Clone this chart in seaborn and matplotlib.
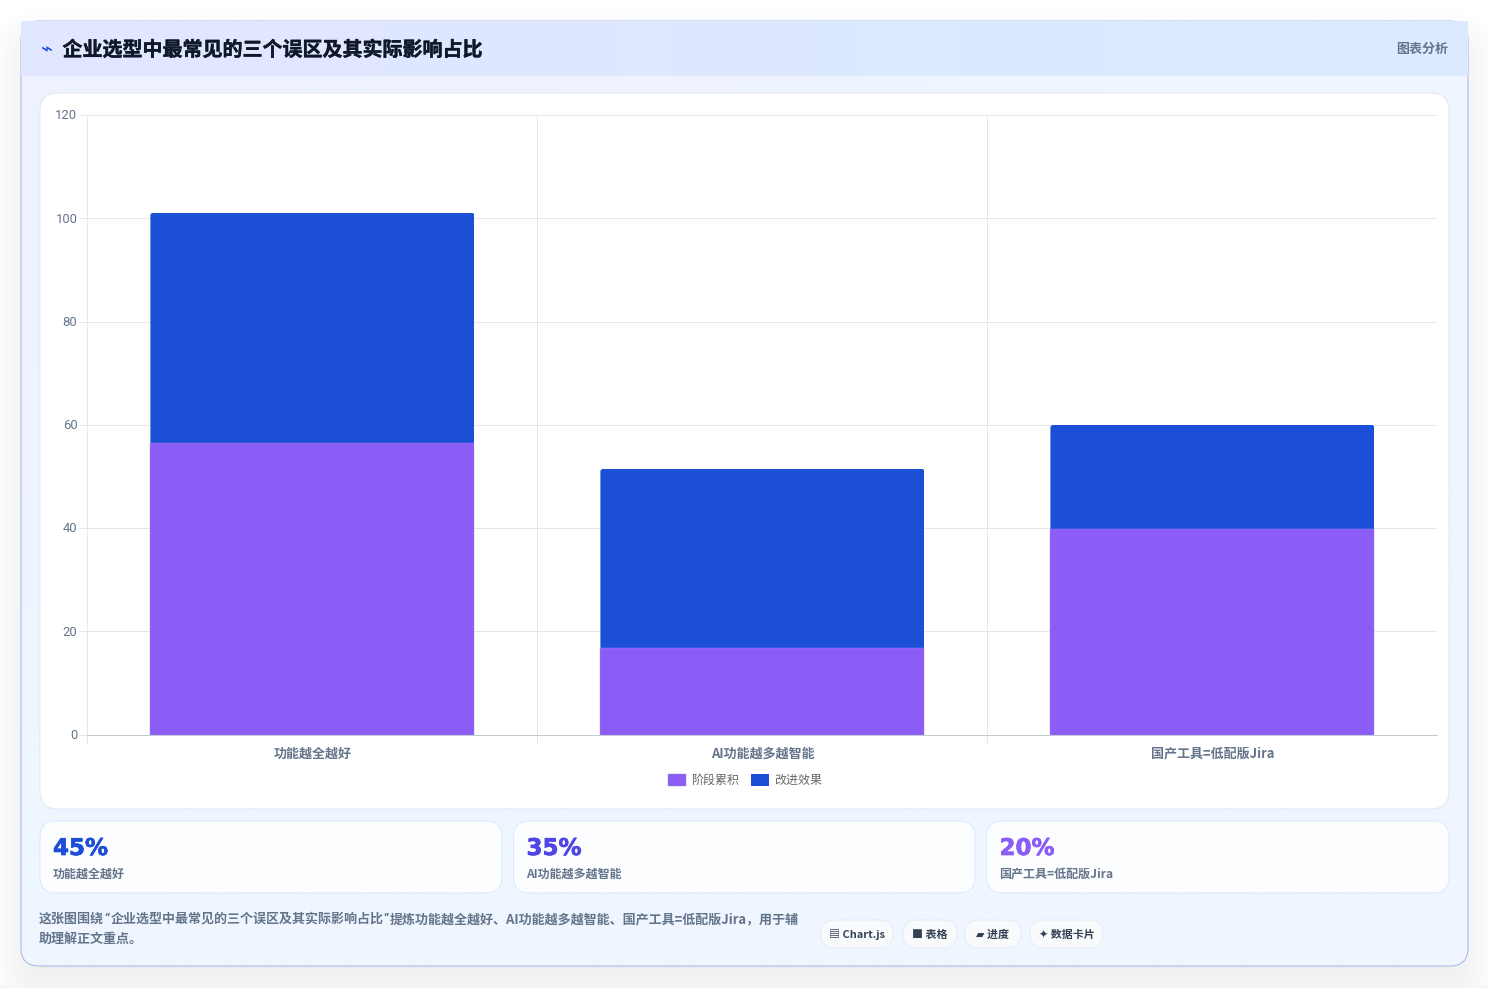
#!/usr/bin/env python3
import numpy as np
import matplotlib
matplotlib.use('Agg')
import matplotlib.pyplot as plt
import matplotlib.patheffects as pe
from matplotlib.patches import FancyBboxPatch, Rectangle
from matplotlib.transforms import ScaledTranslation
import seaborn as sns

categorias = ['功能越全越好', 'AI功能越多越智能', '国产工具=低配版Jira']
acumulado = [56.5, 16.7, 39.9]
mejora = [44.6, 34.8, 20.1]
serie_a = '阶段累积'
serie_b = '改进效果'
yticks = [0, 20, 40, 60, 80, 100, 120]
stats = ['45%', '35%', '20%']
stats_labels = ['功能越全越好', 'AI功能越多越智能', '国产工具=低配版Jira']
stats_colores = ['#1d4ed8', '#4f46e5', '#8b5cf6']
chips = ['▤ Chart.js', '■ 表格', '▰ 进度', '✦ 数据卡片']
titulo = '企业选型中最常见的三个误区及其实际影响占比'
nota_trozos = ['这张图围绕', '“', '企业选型中最常见的三个误区及其实际影响占比', '”',
               '提炼功能越全越好、AI功能越多越智能、国产工具=低配版Jira，用于辅']
nota_fin = '助理解正文重点。'

W, H = 1489, 988
PX = 0.72  # px -> pt a dpi 100
LINEA = 0.72

sns.set_theme(style='white')
plt.rcParams['font.family'] = ['Noto Sans CJK SC', 'DejaVu Sans']

fig = plt.figure(figsize=(W / 100, H / 100), dpi=100, facecolor='white')

# capa de fondo en pixeles
bg = fig.add_axes([0, 0, 1, 1], zorder=0)
bg.axis('off')


def caja(x0, y0, x1, y1, r, **kw):
    p = FancyBboxPatch((x0 + r, y0 + r), x1 - x0 - 2 * r, y1 - y0 - 2 * r,
                       boxstyle=f'round,pad={r},rounding_size={r}', **kw)
    bg.add_patch(p)
    return p


# sombra de la tarjeta (alpha minimo que Agg no redondea a 0)
for g in range(30, -31, -3):
    caja(21 - g, 41 - g, 1468 + g, 986 + g, 18 + max(g, -10),
         fc='#0f172a', ec='none', alpha=0.004, zorder=1)
bg.add_patch(Rectangle((0, 986), W, 2, fc='#f4f5f8', ec='none', zorder=1.5))

# tarjeta con degradado
tarjeta = caja(21, 21, 1468, 966, 18, fc='white', ec='none', zorder=1.8)
grad = np.array([[[238, 242, 255], [239, 246, 255]], [[239, 246, 255], [239, 246, 255]]]) / 255
im = bg.imshow(grad, extent=(21, 1468, 966, 21), aspect='auto', zorder=2, interpolation='bilinear')
im.set_clip_path(tarjeta)
caja(21, 21, 1468, 966, 18, fc='none', ec='#a5b4e8', lw=LINEA, zorder=2.2)

# cabecera (tapa las esquinas superiores)
grad2 = np.array([[[224, 231, 255], [219, 234, 254]]]) / 255
bg.imshow(grad2, extent=(21, 1468, 76, 21.5), aspect='auto', zorder=2.5, interpolation='bilinear')
bg.set_xlim(0, W)
bg.set_ylim(H, 0)
bg.text(47, 50, '⌁', fontsize=20 * PX, color='#1d4ed8', ha='center', va='center', zorder=5)
bg.text(62.5, 49.5, titulo, fontsize=20 * PX, fontweight='bold', color='#0f172a', va='center', zorder=5,
        path_effects=[pe.withStroke(linewidth=0.3, foreground='#0f172a')])
bg.text(1448, 49, '图表分析', fontsize=13 * PX, fontweight='bold', color='#64748b', ha='right', va='center', zorder=5)

# panel del grafico
caja(40, 93, 1449, 809, 18, fc='white', ec='#e2e8f0', lw=LINEA, zorder=3)

# tarjetas de numeros
for (x0, x1), s, lab, c in zip([(40, 502), (513.5, 975), (986.5, 1449)], stats, stats_labels, stats_colores):
    caja(x0, 821, x1, 893, 16, fc='#fcfdff', ec='#dbeafe', lw=LINEA, zorder=3)
    bg.text(x0 + 13, 848.5, s, fontsize=23 * PX, fontweight='bold', color=c, family='DejaVu Sans',
            va='center', zorder=5, path_effects=[pe.withStroke(linewidth=0.5, foreground=c)])
    bg.text(x0 + 13, 874, lab, fontsize=12 * PX, fontweight='bold', color='#64748b', va='center', zorder=5)

# nota y chips (las comillas van en fuente latina, mas estrechas)
for x, trozo in zip([39, 104, 111, 384, 390], nota_trozos):
    fam = ['Roboto', 'Noto Sans CJK SC'] if trozo in '“”' else ['Noto Sans CJK SC', 'DejaVu Sans']
    bg.text(x, 919, trozo, fontsize=13 * PX, fontweight='bold', color='#64748b', va='center', zorder=5, family=fam)
bg.text(39, 939, nota_fin, fontsize=13 * PX, fontweight='bold', color='#64748b', va='center', zorder=5)
for (x0, x1), ch in zip([(821, 893), (903, 957), (965, 1021), (1030, 1103)], chips):
    caja(x0, 920, x1, 948, 14, fc='#f8fafc', ec='#e5edf8', lw=LINEA, zorder=3)
    bg.text((x0 + x1) / 2, 935, ch, fontsize=11 * PX, fontweight='bold', color='#334155',
            ha='center', va='center', zorder=5)

# grafico principal
ax = fig.add_axes([87.4 / W, 1 - 734.6 / H, 1350 / W, 619.5 / H], zorder=4)
ax.patch.set_alpha(0)
totales = np.array(acumulado) + np.array(mejora)
sns.barplot(x=categorias, y=totales, color='#1a4fd6', saturation=1, width=0.72, ax=ax,
            label=serie_b, zorder=3, linewidth=0)
sns.barplot(x=categorias, y=acumulado, color='#8b5cf6', saturation=1, width=0.72, ax=ax,
            label=serie_a, zorder=3.1, edgecolor='#a78bfa', linewidth=0.3)
ax.set_xlim(-0.5, 2.5)
ax.set_ylim(0, 120)
ax.set_yticks(yticks)
ax.set_xticks([-0.5, 0.5, 1.5], minor=True)
ax.set_xticks([0, 1, 2], labels=categorias)
ax.grid(axis='y', color='#e5e7eb', lw=LINEA, zorder=0)
ax.grid(axis='x', which='minor', color='#e5e7eb', lw=LINEA, zorder=0)
ax.grid(axis='x', which='major', visible=False)
ax.tick_params(axis='y', which='major', left=True, length=5.5, width=LINEA, color='#e5e7eb',
               labelsize=13 * PX, labelcolor='#64748b', pad=1.8)
ax.tick_params(axis='x', which='major', bottom=False, labelsize=13 * PX, labelcolor='#64748b', pad=2.5)
ax.tick_params(axis='x', which='minor', bottom=True, length=5.5, width=LINEA, color='#e5e7eb')
subir = ScaledTranslation(0, 0.007, fig.dpi_scale_trans)
for lab in ax.get_yticklabels():
    lab.set_family('Roboto')
    lab.set_transform(lab.get_transform() + subir)
for lab in ax.get_xticklabels():
    lab.set_fontweight('bold')
for lado in ['top', 'right']:
    ax.spines[lado].set_visible(False)
ax.spines['left'].set_color('#e5e7eb')
ax.spines['bottom'].set_color('#c4cad3')
ax.spines['left'].set_linewidth(LINEA)
ax.spines['bottom'].set_linewidth(LINEA)
ax.set_ylabel('')

h, l = ax.get_legend_handles_labels()
leg = ax.legend(h[::-1], l[::-1], loc='center', bbox_to_anchor=(657.5 / 1350, -46 / 619.5), ncols=2,
                frameon=False, fontsize=12 * PX, handlelength=1.5, handleheight=1.05,
                handletextpad=0.42, columnspacing=1.02, labelcolor='#666666')

# esquinas superiores redondeadas de las barras azules
fig.canvas.draw()
for barra in ax.containers[0]:
    ext = barra.get_window_extent()
    clip = FancyBboxPatch((ext.x0, ext.y0 - 10), ext.width, ext.height + 10,
                          boxstyle='round,pad=0,rounding_size=3', transform=None)
    barra.set_clip_path(clip)

fig.savefig('out.png', dpi=100)
plt.close()
